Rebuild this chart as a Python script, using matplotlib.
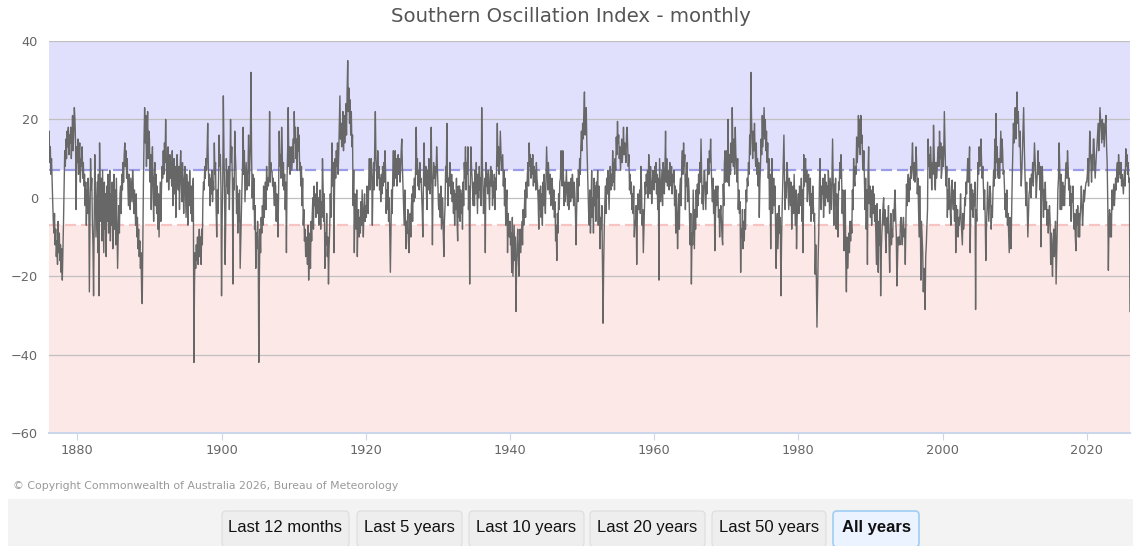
import numpy as np
import matplotlib
matplotlib.use("Agg")
import matplotlib.pyplot as plt
from matplotlib.patches import FancyBboxPatch, Rectangle

# monthly SOI values, Jan 1876 onwards
soi_1870s = [
    11, 17, 9, 13, 6, 10, 4, -1, -6, -9, -4, -12,  # 1876
    -8, -15, -11, -17, -6, -14, -9, -16, -12, -19, -13, -21,  # 1877
    -14, -6, 3, 12, 8, 15, 10, 17, 13, 18, 11, 16,  # 1878
    14, 18, 10, 15, 21, 12, 17, 23, 20, 14, -3, 13,  # 1879
]
soi_1880s = [
    9, 15, 6, 11, 14, 4, 10, 8, 13, 5, 9, 3,  # 1880
    6, -2, 4, -7, 2, -4, 5, 0, -24, -8, 10, 2,  # 1881
    5, -6, -12, -25, -8, 11, 2, -10, -3, 4, -14, 6,  # 1882
    -25, 14, 2, -6, 5, -11, 7, -3, -14, 4, -8, 1,  # 1883
    -15, 3, -6, 6, -9, -2, 7, -11, 1, -7, 4, -13,  # 1884
    -5, 6, -8, 2, -12, 5, -6, -18, -10, -2, -9, 1,  # 1885
    3, -4, 6, 2, 9, 4, 11, 14, 8, 12, 5, 10,  # 1886
    4, -2, 6, 1, -3, 5, 2, -1, 7, 3, -4, 2,  # 1887
    -2, -7, 1, -10, -5, -13, -8, -15, -11, -18, -14, -24,  # 1888
    -27, -12, 4, 15, 23, 14, 21, 8, 16, 22, 10, 17,  # 1889
]
soi_1890s = [
    15, 4, 11, -3, 8, 13, 2, -6, 5, 9, -2, 6,  # 1890
    -4, 3, -8, 1, -10, -3, 4, -6, 2, 8, 5, 12,  # 1891
    6, 14, 9, 20, 11, 4, 9, 13, 2, 7, 11, 5,  # 1892
    9, 3, 12, -2, 6, 10, 1, 8, -5, 4, 11, 6,  # 1893
    2, 8, -3, 7, 12, 4, -1, 9, 5, -4, 3, 8,  # 1894
    1, -5, 6, 2, -7, 4, -2, 7, 0, -4, 3, -6,  # 1895
    2, 5, -42, -22, -14, -18, -12, -16, -10, -17, -13, -8,  # 1896
    -15, -10, -17, -8, -12, 0, 4, 2, 8, 5, 10, 7,  # 1897
    12, 19, 8, 3, 6, -2, 5, 1, 7, -1, 4, 2,  # 1898
    14, 6, 9, -3, -10, 2, -4, 5, 16, 8, 11, 3,  # 1899
]
soi_1900s = [
    -25, -6, 4, 26, 12, 2, -17, -5, 10, 3, 7, 1,  # 1900
    8, -3, 6, 20, 9, 13, 4, -22, 5, 2, 17, 11,  # 1901
    7, -4, 3, -9, 1, -6, 2, -18, -11, -5, 3, 8,  # 1902
    18, 6, 12, -1, 4, 9, 2, 6, 7, 16, 3, 8,  # 1903
    14, 32, 11, 0, 6, -3, 5, -8, -2, -18, -9, -13,  # 1904
    -6, -11, -42, -20, -8, -14, -5, -9, -2, -7, 3, -5,  # 1905
    -1, 4, -3, 8, 2, 5, 3, 6, 22, 4, 9, 7,  # 1906
    7, 3, 5, 1, -2, 4, 3, -6, 1, -4, -10, 2,  # 1907
    17, 8, 11, 5, 18, 12, 3, 9, 2, 6, -3, 4,  # 1908
    -14, 5, 12, 23, 8, 13, 6, 9, 13, 7, 11, 15,  # 1909
]
soi_1910s = [
    9, 22, 14, 18, 10, 15, 7, 18, 12, 16, 7, 9,  # 1910
    3, 8, -2, 5, -7, -3, -11, -8, -15, -12, -10, -17,  # 1911
    -7, -21, -14, -9, -18, -6, -11, -4, 0, -8, 3, -2,  # 1912
    1, -5, -2, 4, -4, 0, -7, -3, 2, -8, -1, -5,  # 1913
    10, 3, -6, 1, -18, -9, -12, -4, -15, -10, -22, -13,  # 1914
    -8, 1, -5, 6, 14, 3, 9, -14, 2, 10, 5, 12,  # 1915
    8, 14, 6, 11, 18, 26, 15, 19, 13, 17, 22, 12,  # 1916
    21, 14, 18, 24, 16, 27, 35, 22, 28, 19, 25, 16,  # 1917
    22, 13, 16, -2, 7, -14, 1, -3, -8, 2, -15, -6,  # 1918
    -3, -10, -5, -9, -1, -7, 2, -4, -10, -3, 1, -6,  # 1919
]
soi_1920s = [
    -2, -5, 3, 0, -4, 4, 10, 2, 7, 10, 5, -7,  # 1920
    4, 9, 2, 14, 22, 10, 7, 3, 12, 5, 8, 2,  # 1921
    5, -1, 6, 1, 8, 3, 9, 4, 12, 7, -4, 2,  # 1922
    -3, 4, -6, 0, -10, -19, -8, 2, -4, 6, 12, 3,  # 1923
    8, 12, 5, 10, 3, 9, 11, 6, 10, 4, 7, 12,  # 1924
    15, 8, 3, -2, -7, 2, -5, -13, -6, -9, -3, -11,  # 1925
    -14, -8, -4, -10, -2, 1, -6, 3, -1, 5, 0, 8,  # 1926
    18, 6, 10, 3, 7, 2, 9, 4, 5, 1, -3, -10,  # 1927
    4, 14, 6, 3, 8, 1, -3, 7, 2, 10, 5, 1,  # 1928
    6, 18, 2, -12, 4, 9, 5, 8, 3, 6, 13, 9,  # 1929
]
soi_1930s = [
    4, -2, -3, 1, -5, 3, -8, -4, 0, -9, -15, -6,  # 1930
    -2, 8, 4, 19, 6, -2, 5, 3, 9, 4, 1, 6,  # 1931
    -1, 4, -4, 2, -7, 1, -3, 5, -6, -11, 3, -5,  # 1932
    3, -6, 2, -4, 1, -8, 4, -2, 9, 5, 13, 2,  # 1933
    9, 6, 13, -3, 3, -22, 2, 13, 8, 5, 1, -2,  # 1934
    4, -2, 7, 1, 9, 3, -4, 6, 0, 8, 2, 5,  # 1935
    -2, 23, 10, 3, -4, 0, 5, -14, 9, 3, 6, 1,  # 1936
    7, 2, -3, 5, 8, 3, 7, -2, 4, 0, 6, -3,  # 1937
    5, 2, 11, 19, 8, 13, 6, 10, 17, 12, 7, 9,  # 1938
    11, 3, 7, -2, 5, -7, -1, 2, -14, -4, -8, -10,  # 1939
]
soi_1940s = [
    -6, -12, -9, -19, -5, -20, -13, -7, -16, -10, -29, -18,  # 1940
    -12, -8, -15, -20, -11, -8, -14, -10, -6, -12, -3, -7,  # 1941
    -3, 2, -5, 4, 0, 6, 9, 3, 14, 8, 11, 5,  # 1942
    10, 6, 11, 3, 8, 4, 7, 2, 9, 5, 3, -1,  # 1943
    -8, 2, -3, 3, -5, 1, -7, 4, -2, 6, 0, -4,  # 1944
    5, 13, 7, 2, 9, 5, 1, 6, -2, 3, 5, 2,  # 1945
    -3, 2, -5, -1, -11, -7, -16, -4, -9, 1, -3, 4,  # 1946
    5, 12, 8, 3, 12, 6, -2, 4, -1, 3, 7, 1,  # 1947
    -2, 4, -3, 2, 4, -1, 5, 0, 6, 3, -2, 4,  # 1948
    1, -4, -12, -3, 5, -1, 7, 3, 10, 6, 13, 17,  # 1949
]
soi_1950s = [
    12, 19, 15, 22, 27, 16, 20, 23, 14, 8, 1, -4,  # 1950
    -7, 2, -9, -3, 7, -5, 0, -9, 5, -2, 3, -6,  # 1951
    4, 0, 7, -7, 3, -2, -13, -5, -8, -2, -17, -32,  # 1952
    -17, -8, -1, 3, -4, 5, 1, 7, 2, -3, 4, 8,  # 1953
    2, 6, 3, 12, 4, 9, 2, 10, 7, 15.5, 11, 19.5,  # 1954
    14, 16, 10, 13, 7, 11, 15, 9, 12, 18, 11, 14,  # 1955
    12, 9, 16, 18, 13, 8, 11, 2, 6, 1, 4, -3,  # 1956
    1, -4, 3, -10, -6, -7, -2, -17, -5, 1, -3, -1,  # 1957
    2, -4, 8, 3, -7, -3, -14, -8, -1, 4, 1, 6,  # 1958
    3, 7, 0, 11, 5, 1, 8, 4, -1.5, 3, 7, 5,  # 1959
]
soi_1960s = [
    2, 8, 4, 9, 1, 6, -3, 5, -21, 10, 4, -1,  # 1960
    3, 7, -2, 9, 6, 1, 8, 17, 4, 10, 3, 5,  # 1961
    7, 2, 9, 5, 3, 8, 1, 6, 4, 7, -2, 3,  # 1962
    -9, 2, -4, -13, -6, 1, -8, 3, 5, -2, 9, 12,  # 1963
    6, 14, 8, 11, -3, 6, 3, 9, -1, 5, 2, -6,  # 1964
    -12, -4, -22, -9, -12, 2, -6, -13, -3, -8, 2, -5,  # 1965
    3.5, -2, 6, 1, 9, 4, 15, 7, -1.5, 3, -3, 7,  # 1966
    7, 2, -3, 4, 1, 7, 10, 6, 12, 9, 15, 8,  # 1967
    3, -1, 5, -4, 2, -13.5, -6, 3, -2, 1, 3, -5,  # 1968
    -3, -10, -4, -2, -6, -10, -12, 3.5, -2, 9, 12, 4,  # 1969
]
soi_1970s = [
    9, 12, 4, 20, 8, 3, 11, 6, 14, 9, 23, 12,  # 1970
    8, 15, 6, 18, 11, 9, 4, 10, -3, 2, -4, -1,  # 1971
    -19, -8, -10, -3, -13, -6, -11, -3, -8, 2, -1, 5,  # 1972
    3, 9, 6, 16, 11, 32, 21, 14, 10, 17, 12, 19,  # 1973
    12, 8, 14, 6, 10, 3, 9, -5, 4, 8, 15, 11,  # 1974
    21, 13, 18, 23, 15, 20, 12, 17, 9, 14, 5, 10,  # 1975
    -3, 6, -13, 2, 10, -4, 0, 5, -2, 3, -6, -18,  # 1976
    -10, -4, -13, -7, -2, -9, -5, -25, -12, -3, 3, 8,  # 1977
    16, 5, -3, 4, 0, 9, 7, 2, -3, 5, 3.5, -2,  # 1978
    4, -8, 1, 3, -4, 6, 0, -7, 2, -13, -5, -1.5,  # 1979
]
soi_1980s = [
    1, -4, 3, 0, -2, 5, -6, 2, -14, 11, 3, 7,  # 1980
    10, 4, 7, -1, 3.5, 6, 2, -2, 5, -6, 1, -4,  # 1981
    3, -2, -6, -4, -19.5, -12, -21, -33, -24, -15, -9, 3,  # 1982
    10, 1, -3, 3, 1, 5, -5, 2, 6, -2, 4, 0,  # 1983
    3, -1, 7, 2, -4, 5, 1, -3, 6, 15, 3, -7,  # 1984
    3.5, -2, 5, -8, 1, -3, -10, 4, 2, 9, 5, 11,  # 1985
    6, -4, 2, -5, -13.5, -8, 2, -16, -24, -10, -18, -14,  # 1986
    -9, -14, -6, -11, -6, -9, 2, -3, 10, 5, 3, 8,  # 1987
    6, 15.5, 9, 12, 21, 13, 20, 11, 21, 14, 16, 9,  # 1988
    7, 12, 4, -3, 5, -8, 2, -17, 6, 13, -1.5, 3,  # 1989
]
soi_1990s = [
    -5, 2, -7, -1, 3, -4, 1, -6, -2, -10, -17, -1.5,  # 1990
    -8, -19, -6, -12, -3, -25, -14, -9, -6, -2, 0, -7,  # 1991
    -3, -10, -14, -6, -5, -9, -2, -12, -19, -10, -4, -12,  # 1992
    -8, -10, -3, -6, -1, 2, -5, -9, -22.5, -17, -10, -12,  # 1993
    -10, -12, -6, -5, -9, -12, -7, -5, -10, -8, -17, -6,  # 1994
    3.5, -2, 3, 6, -1, 5, 2, 8, 5, 9, 14, 7,  # 1995
    4.5, 9, 4, 6, 13, 8, 1, 5, -2, -10, 3, -6,  # 1996
    -21, -6, -10, -14, -24, -18, -20, -28.5, -15, -12, -7, -3,  # 1997
    15, 8, 11, 5, 13, 9, 2, 9, 6, 18.5, 12, 4,  # 1998
    2, 9, 5, 7, 11, 13, 8, 17, 10, 14, 5, 7,  # 1999
]
soi_2000s = [
    13, 8, 11, 22, 14, 7, 3, 8, -5, 2, -3, 5,  # 2000
    1, -4, -7, 3, 4.5, -1, -3, 2, -6, 4, -14, -2,  # 2001
    -6, -3, -10, -5, -7, -4, 1, -6, -9, -12, -4, -8,  # 2002
    -6, 0, -2, 4, 1, 6, 10, 4, 8, 13, -14, -1.5,  # 2003
    3.5, -3, 2, -5, 1, -2, 4, -28.5, -3, -6, 2, 9,  # 2004
    6, 13, 8, 11, 15, 9, 5, 8, 3, -3, 2, -5,  # 2005
    -16, -8, -3, 4, -1.5, -6, -1.5, 3, 1, -8, -2, -5,  # 2006
    2, 7, 3, 15, 5, 21.5, 9, 13, 6, 5, 10, 5,  # 2007
    11, 17, 9, 15, 12, 6, 7, 3, -3, 1, -5, 2,  # 2008
    -7, -4, -9, -14, -5, -8, -13, -4, 5, 12, 19, 14,  # 2009
]
soi_2010s = [
    18, 23, 15, 20, 27, 19, 22, 17, 13, 17, 8, 3,  # 2010
    7, 12, 18, 23, 14, 7, 2, -2, 4, -3, -10, -4,  # 2011
    1, 2, 5, 0, 6, 4, 9, 3, 8, 14, 10, 6,  # 2012
    0, 4, 7, 12, 6, 9, 2, 8, -12.5, 3, 8, 3,  # 2013
    -5, 2, -3, 4, -3, -1, -7, -3, -9, -5, -2, -6,  # 2014
    -17, -9, -14, -20, -11, -8, -15, -12, -6, -22, -15, -7,  # 2015
    2, 5, 14, 8, -3, 6, -3, 1, 4, -2, 3, -2,  # 2016
    3, 7, 9, 5, 12, 8, 2, 5, -2, 3, -6, 1,  # 2017
    -1, 3, -5, -8, -4, -10, -13.5, -3, -7, -2, -10, -4,  # 2018
    -10, -5, -2, 3, -2, -7, -4, 2, -1, 1, 3, 4,  # 2019
]
soi_2020s = [
    4, 6, 10, 3, 8, 17, 12, 9, 4, 11, 7, 15,  # 2020
    15, 9, 5, 8, 11, 13, 16, 19, 12, 17, 23, 20,  # 2021
    17, 14, 20, 15, 19, 13, 16, 19, 21, 13, 9, -1.5,  # 2022
    -18.5, -7, -3, -10, -4, -10, 2, -3, 0, 3.5, -2, 1,  # 2023
    5, 2, 7, 9, 4, 11, 6, 9, 5, 9, 3, 6,  # 2024
    3.5, 1, 5, 7, 3, 12.5, 8, 11, 6, 9, 4, 5,  # 2025
    -29,  # 2026
]

start_year = 1876
x_ticks = [1880, 1900, 1920, 1940, 1960, 1980, 2000, 2020]
y_ticks = [-60, -40, -20, 0, 20, 40]
la_nina_level = 7
el_nino_level = -7
title = "Southern Oscillation Index - monthly"
credit = "\u00a9 Copyright Commonwealth of Australia 2026, Bureau of Meteorology"
buttons = ["Last 12 months", "Last 5 years", "Last 10 years",
           "Last 20 years", "Last 50 years", "All years"]

soi = (soi_1870s + soi_1880s + soi_1890s + soi_1900s + soi_1910s + soi_1920s
       + soi_1930s + soi_1940s + soi_1950s + soi_1960s + soi_1970s + soi_1980s
       + soi_1990s + soi_2000s + soi_2010s + soi_2020s)
years = start_year + np.arange(len(soi)) / 12.0

W, H = 1135, 546
fig = plt.figure(figsize=(W / 100, H / 100), dpi=100)
fig.patch.set_facecolor("white")

# main plot area
ax = fig.add_axes([48.5 / W, 1 - 433 / H, (1130 - 48.5) / W, (433 - 41) / H])
ax.set_xlim(years[0], years[-1])
ax.set_ylim(-60, 40)
ax.axhspan(la_nina_level, 40, color="#e0e0fc", lw=0, zorder=0)
ax.axhspan(-60, el_nino_level, color="#fde8e8", lw=0, zorder=0)
for v in y_ticks[1:]:
    ax.axhline(v, color="#c0c0c0", lw=0.9, zorder=1)
ax.axhline(la_nina_level, color="#9c9ce6", lw=1.6, dashes=(5, 2.2), zorder=2)
ax.axhline(el_nino_level, color="#f7c4c4", lw=1.6, dashes=(5, 2.2), zorder=2)
ax.plot(years, soi, color="#676767", lw=1.0, zorder=3)

for s in ["top", "left", "right"]:
    ax.spines[s].set_visible(False)
ax.spines["bottom"].set_color("#ccd6eb")
ax.spines["bottom"].set_linewidth(1.5)
ax.set_xticks(x_ticks)
ax.set_yticks(y_ticks)
ax.tick_params(axis="x", length=5, color="#ccd6eb", labelcolor="#666666",
               labelsize=9.3, pad=3)
ax.tick_params(axis="y", length=0, labelcolor="#666666", labelsize=9.3, pad=7.5)

fig.text(571 / W, 1 - 16 / H, title, ha="center", va="center",
         fontsize=14.2, color="#555555")
fig.text(13 / W, 1 - 486 / H, credit, ha="left", va="center",
         fontsize=7.8, color="#999999")

# button bar under the chart
ov = fig.add_axes([0, 0, 1, 1])
ov.set_xlim(0, W)
ov.set_ylim(H, 0)
ov.axis("off")
ov.add_patch(Rectangle((8, 498.5), 1125, 50, color="#f3f3f3", lw=0))
edges = [(222, 349), (357, 462), (469, 584), (590, 705), (712, 826), (833, 919)]
for label, (x0, x1) in zip(buttons, edges):
    active = label == "All years"
    ov.add_patch(FancyBboxPatch(
        (x0, 511), x1 - x0, 36,
        boxstyle="round,pad=0,rounding_size=4",
        facecolor="#eaf3ff" if active else "#eeeeee",
        edgecolor="#9fcdf3" if active else "#dddddd",
        lw=1.2 if active else 0.8))
    ov.text((x0 + x1) / 2, 527.5, label, ha="center", va="center",
            fontsize=12, family="Liberation Sans",
            fontweight="bold" if active else "normal", color="#111111")

fig.savefig("out.png", dpi=100)
